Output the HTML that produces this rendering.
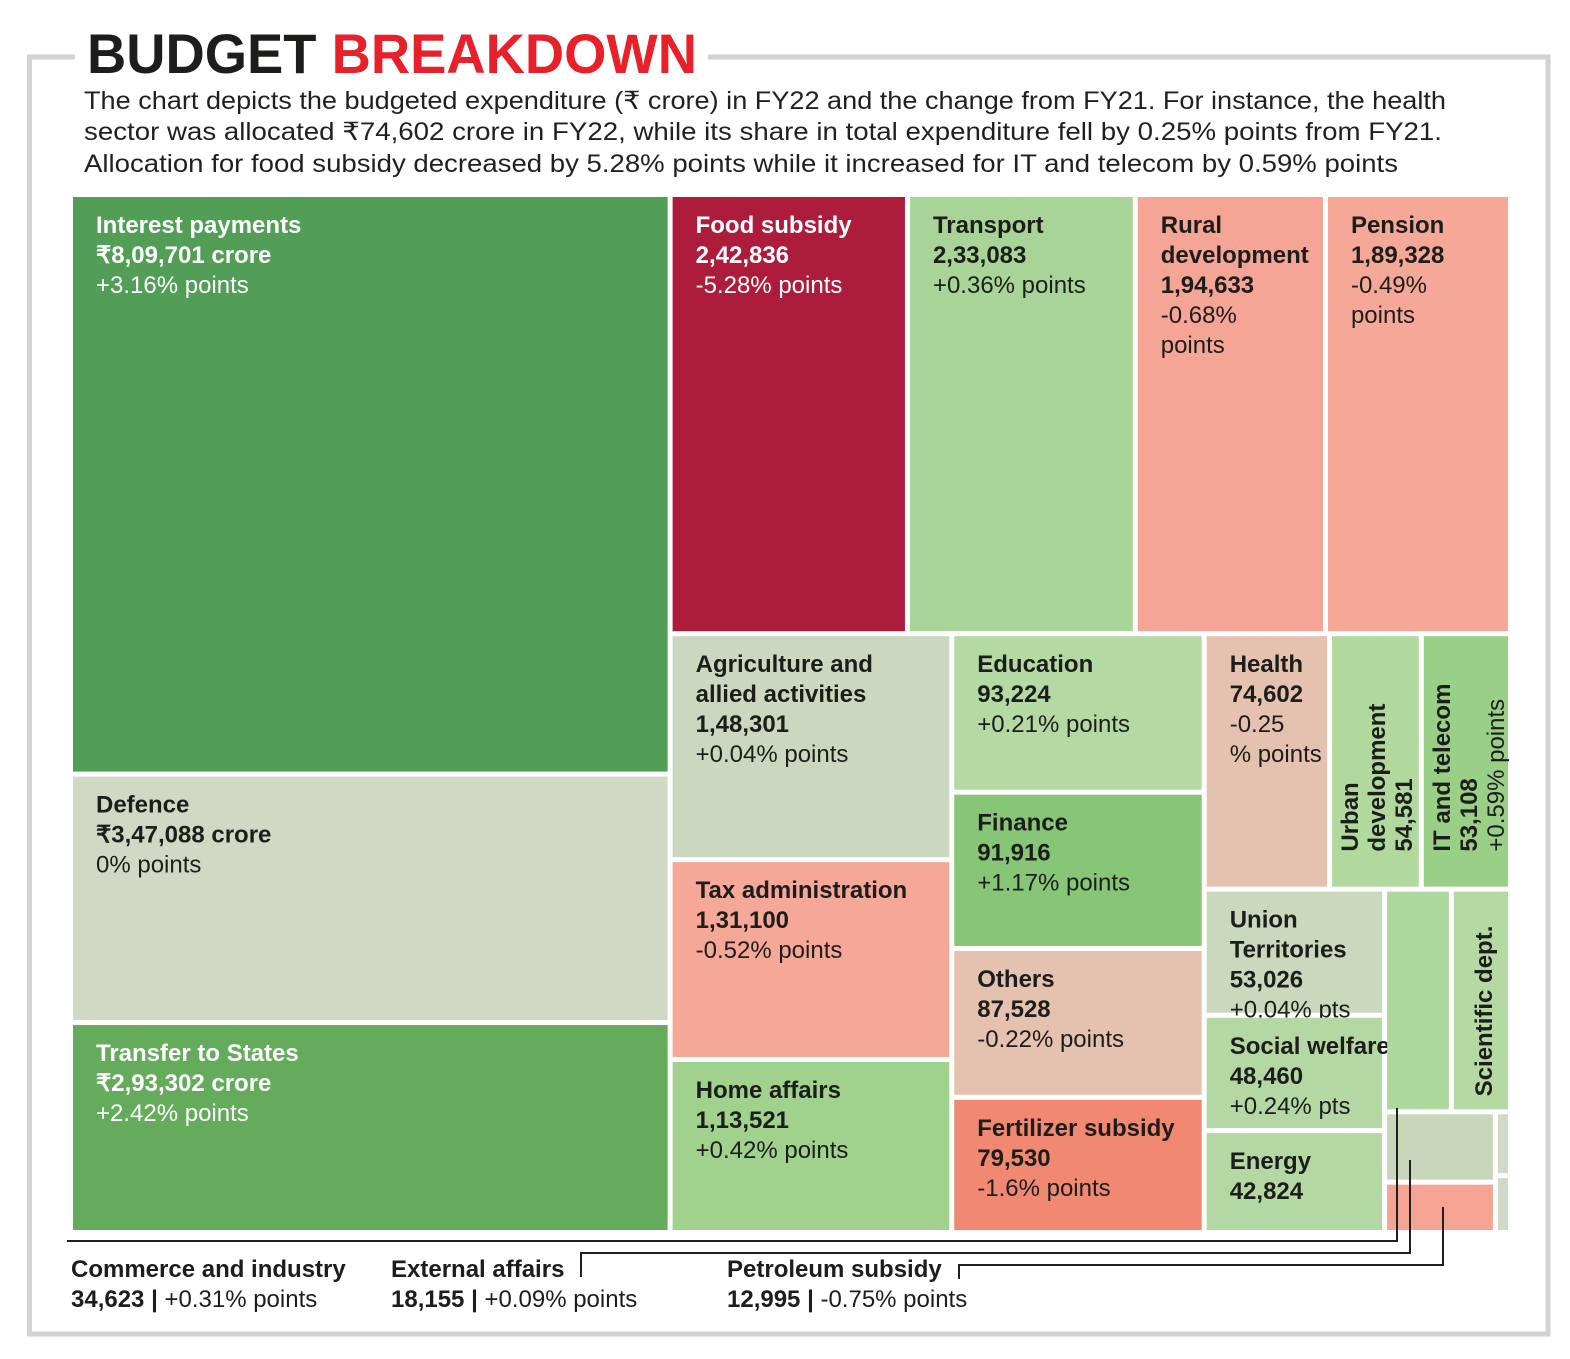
<!DOCTYPE html>
<html><head><meta charset="utf-8">
<style>
html,body{margin:0;padding:0;background:#fff;}
svg{display:block;font-family:"Liberation Sans",sans-serif;}
</style></head>
<body>
<svg id="chart" width="1570" height="1359" viewBox="0 0 1570 1359" xmlns="http://www.w3.org/2000/svg">
  <g fill="none" stroke="#d2d2d2" stroke-width="5">
    <polyline points="75,57 29.5,57 29.5,1334 1548,1334 1548,57 708,57"/>
  </g>
  <text x="87" y="73" font-size="56" font-weight="bold" textLength="610" lengthAdjust="spacingAndGlyphs"><tspan fill="#1d1d1b">BUDGET </tspan><tspan fill="#e8202a">BREAKDOWN</tspan></text>
  <g font-size="25" fill="#231f20">
    <text x="84" y="109" textLength="1362" lengthAdjust="spacingAndGlyphs">The chart depicts the budgeted expenditure (₹ crore) in FY22 and the change from FY21. For instance, the health</text>
    <text x="84" y="140" textLength="1358" lengthAdjust="spacingAndGlyphs">sector was allocated ₹74,602 crore in FY22, while its share in total expenditure fell by 0.25% points from FY21.</text>
    <text x="84" y="172" textLength="1314" lengthAdjust="spacingAndGlyphs">Allocation for food subsidy decreased by 5.28% points while it increased for IT and telecom by 0.59% points</text>
  </g>
  <g id="cells"></g>
  <g id="leaders" fill="none" stroke="#231f20" stroke-width="2">
    <polyline points="67,1241 1397,1241 1397,1108"/>
    <polyline points="581,1277 581,1253 1410,1253 1410,1160"/>
    <polyline points="959,1279 959,1265 1443,1265 1443,1207"/>
  </g>
  <g font-size="24" fill="#1d1d1b">
    <text x="71" y="1277" font-weight="bold">Commerce and industry</text>
    <text x="71" y="1307"><tspan font-weight="bold">34,623 | </tspan>+0.31% points</text>
    <text x="391" y="1277" font-weight="bold">External affairs</text>
    <text x="391" y="1307"><tspan font-weight="bold">18,155 | </tspan>+0.09% points</text>
    <text x="727" y="1277" font-weight="bold">Petroleum subsidy</text>
    <text x="727" y="1307"><tspan font-weight="bold">12,995 | </tspan>-0.75% points</text>
  </g>
</svg>
<script>
var tmNames = ["Interest payments","Defence","Transfer to States","Food subsidy","Transport","Rural|development","Pension","Agriculture and|allied activities","Tax administration","Home affairs","Education","Finance","Others","Fertilizer subsidy","Health","Urban|development","IT and telecom","Union|Territories","Social welfare","Energy","Commerce and industry","Scientific dept.","External affairs","Petroleum subsidy","Other small 1","Other small 2"];
var tmValues = [809701,347088,293302,242836,233083,194633,189328,148301,131100,113521,93224,91916,87528,79530,74602,54581,53108,53026,48460,42824,34623,30700,18155,12995,2250,2000];
var tmValueLabels = ["₹8,09,701 crore","₹3,47,088 crore","₹2,93,302 crore","2,42,836","2,33,083","1,94,633","1,89,328","1,48,301","1,31,100","1,13,521","93,224","91,916","87,528","79,530","74,602","54,581","53,108","53,026","48,460","42,824","","","","","",""];
var tmChanges = ["+3.16% points","0% points","+2.42% points","-5.28% points","+0.36% points","-0.68%|points","-0.49%|points","+0.04% points","-0.52% points","+0.42% points","+0.21% points","+1.17% points","-0.22% points","-1.6% points","-0.25|% points","","+0.59% points","+0.04% pts","+0.24% pts","","","","","","",""];
var tmColors = ["#529e57","#cfd9c4","#64ac5c","#ae1c3c","#a8d597","#f5a595","#f5a898","#cbd8bf","#f5a898","#a0d28d","#b5d9a3","#86c676","#e5c2b0","#f08872","#e5c2b0","#b1d99e","#99cf86","#cad8be","#b4d8a3","#b4d8a3","#aed89d","#b5d9a3","#c8d6bb","#f5a392","#cfd9c4","#cfd9c4"];
var tmWhite = [0,2,3];
var tmRotated = [15,16,21];
var tmHidden = [20,22,23,24,25];
var tmTree = {d:"h",c:[{d:"v",c:[0,1,2]},{d:"v",c:[{d:"h",c:[3,4,5,6]},{d:"h",c:[{d:"v",c:[7,8,9]},{d:"v",c:[10,11,12,13]},{d:"v",c:[{d:"h",c:[14,15,16]},{d:"h",c:[{d:"v",c:[17,18,19]},{d:"v",c:[{d:"h",c:[20,21]},{d:"h",c:[{d:"v",c:[22,23]},{d:"v",c:[24,25]}]}]}]}]}]}]}]};

function tmSum(n) {
  if (typeof n === "number") {
    return Math.abs(Number(tmValues[n])) || 0;
  }
  var s = 0;
  for (var i = 0; i < n.c.length; i++) {
    s += tmSum(n.c[i]);
  }
  return s;
}
function tmLayout(n, x, y, w, h, out) {
  if (typeof n === "number") {
    out[n] = {x: x, y: y, w: w, h: h};
    return;
  }
  var t = tmSum(n) || 1;
  var off = 0;
  for (var i = 0; i < n.c.length; i++) {
    var ch = n.c[i];
    var f = tmSum(ch) / t;
    if (n.d === "h") {
      tmLayout(ch, x + off, y, w * f, h, out);
      off += w * f;
    } else {
      tmLayout(ch, x, y + off, w, h * f, out);
      off += h * f;
    }
  }
}
function tmDraw() {
  var NS = "http://www.w3.org/2000/svg";
  var g = document.getElementById("cells");
  if (!g) { return; }
  while (g.firstChild) { g.removeChild(g.firstChild); }
  var rects = [];
  tmLayout(tmTree, 70.5, 194.5, 1440, 1038, rects);
  var gap = 2.5;
  for (var i = 0; i < tmNames.length; i++) {
    var r = rects[i];
    if (!r) { continue; }
    var nm = String(tmNames[i]);
    var slug = "cell-" + nm.toLowerCase().replace(/[^a-z0-9]+/g, "-");
    var grp = document.createElementNS(NS, "g");
    
    
    var rc = document.createElementNS(NS, "rect");
    rc.setAttribute("x", r.x + gap);
    rc.setAttribute("y", r.y + gap);
    rc.setAttribute("width", Math.max(0, r.w - 2 * gap));
    rc.setAttribute("height", Math.max(0, r.h - 2 * gap));
    rc.setAttribute("fill", tmColors[i] || "#cccccc");
    
    
    grp.appendChild(rc);
    if (tmHidden.indexOf(i) < 0) {
      var lines = [];
      var parts = nm.split("|");
      for (var a = 0; a < parts.length; a++) { lines.push([parts[a], true]); }
      if (tmValueLabels[i]) { lines.push([String(tmValueLabels[i]), true]); }
      if (tmChanges[i]) {
        var cp = String(tmChanges[i]).split("|");
        for (var b = 0; b < cp.length; b++) { lines.push([cp[b], false]); }
      }
      var fill = tmWhite.indexOf(i) >= 0 ? "#ffffff" : "#1d1d1b";
      var rot = tmRotated.indexOf(i) >= 0;
      for (var k = 0; k < lines.length; k++) {
        var t = document.createElementNS(NS, "text");
        
        
        t.setAttribute("font-size", "24");
        t.setAttribute("fill", fill);
        if (lines[k][1]) { t.setAttribute("font-weight", "bold"); }
        if (rot) {
          var bx = r.x + gap + (i === 21 ? 38 : 26) + k * 27;
          var by = r.y + r.h - gap - (i === 21 ? 13 : 35);
          t.setAttribute("transform", "translate(" + bx + "," + by + ") rotate(-90)");
          t.setAttribute("x", "0");
          t.setAttribute("y", "0");
        } else {
          t.setAttribute("x", r.x + gap + 23);
          t.setAttribute("y", r.y + gap + 36 + k * 30);
        }
        t.textContent = lines[k][0];
        grp.appendChild(t);
      }
    }
    g.appendChild(grp);
  }
}
try { tmDraw(); } catch (e) {}
</script>
</body></html>
